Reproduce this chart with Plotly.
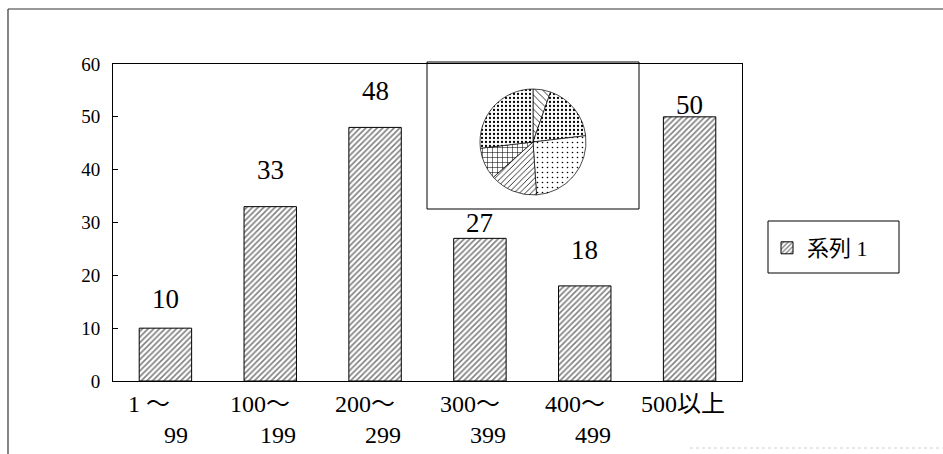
import plotly.graph_objects as go

# ---- data ----
categories = ["1～99", "100～199", "200～299", "300～399", "400～499", "500以上"]
label_line1 = ["1 ～", "100～", "200～", "300～", "400～", "500以上"]
label_line2 = ["99", "199", "299", "399", "499", ""]
values = [10, 33, 48, 27, 18, 50]
series_name = "系列 1"
y_ticks = [0, 10, 20, 30, 40, 50, 60]

# ---- styling ----
SERIF = "Liberation Serif, Noto Sans CJK JP, serif"
NUM_FONT = "Liberation Serif"
label_lift = [29, 37, 36, 15, 36, 12]          # px above each bar top
line2_indent = ["\u3000\u00a0\u00a0", "\u3000\u00a0", "\u3000\u00a0",
                "\u3000\u00a0", "\u3000\u00a0", ""]

W, H = 943, 454
L, R, T, B = 113, 201, 64, 73
pw, ph = W - L - R, H - T - B


def px_x(p):
    return (p - L) / pw


def px_y(p):
    return (H - B - p) / ph


fig = go.Figure()

fig.add_trace(go.Bar(
    x=categories, y=values, name=series_name, width=0.5,
    marker=dict(color="white", line=dict(color="black", width=1),
                pattern=dict(shape="/", size=4, solidity=0.4,
                             fgcolor="black", bgcolor="white")),
    showlegend=True,
))

# inset pie of the same distribution
cx, cy, rad = 533, 142, 53
fig.add_trace(go.Pie(
    labels=categories, values=values, sort=False, direction="clockwise",
    rotation=0, textinfo="none", showlegend=False, hoverinfo="label+value",
    domain=dict(x=[px_x(cx - rad), px_x(cx + rad)],
                y=[px_y(cy + rad), px_y(cy - rad)]),
    marker=dict(colors=["white"] * 6, line=dict(color="black", width=0.7),
                pattern=dict(shape=["\\", ".", ".", "/", "+", "."],
                             size=[5, 4, 5, 4, 5, 4],
                             solidity=[0.15, 0.25, 0.08, 0.2, 0.2, 0.25],
                             fgcolor="black", bgcolor="white")),
))

annotations = []
for c, v, lift in zip(categories, values, label_lift):
    annotations.append(dict(x=c, y=v, xref="x", yref="y", text=str(v),
                            showarrow=False, yanchor="middle", yshift=lift,
                            font=dict(family=NUM_FONT, size=27, color="black")))
for c, a, b, ind in zip(categories, label_line1, label_line2, line2_indent):
    txt = a if not b else a + "<br>" + ind + b
    annotations.append(dict(x=c, y=0, xref="x", yref="paper", text=txt,
                            showarrow=False, xanchor="center", yanchor="top",
                            align="left", xshift=-7, yshift=-8,
                            font=dict(family=SERIF, size=24, color="black")))

shapes = [
    # inset frame around the pie
    dict(type="rect", xref="paper", yref="paper", layer="below",
         x0=px_x(427), x1=px_x(639), y0=px_y(209), y1=px_y(62),
         line=dict(color="black", width=1), fillcolor="white"),
    # legend frame
    dict(type="rect", xref="paper", yref="paper",
         x0=px_x(768), x1=px_x(899), y0=px_y(273), y1=px_y(221),
         line=dict(color="black", width=1)),
    # outer chart frame (top and left edges)
    dict(type="line", xref="paper", yref="paper",
         x0=px_x(8), x1=px_x(943), y0=px_y(9), y1=px_y(9),
         line=dict(color="#333", width=1.2)),
    dict(type="line", xref="paper", yref="paper",
         x0=px_x(8), x1=px_x(8), y0=px_y(9), y1=px_y(454),
         line=dict(color="#333", width=1.2)),
    dict(type="line", xref="paper", yref="paper",
         x0=px_x(690), x1=px_x(943), y0=px_y(448), y1=px_y(448),
         line=dict(color="#d0d0d0", width=1, dash="dot")),
]

fig.update_layout(
    width=W, height=H, margin=dict(l=L, r=R, t=T, b=B),
    paper_bgcolor="white", plot_bgcolor="white",
    font=dict(family=SERIF, color="black"),
    bargap=0.5,
    xaxis=dict(showticklabels=False, ticks="", showgrid=False,
               showline=True, linecolor="black", linewidth=1, mirror=True,
               zeroline=False),
    yaxis=dict(range=[0, 60], tickvals=y_ticks, ticks="inside", ticklen=5,
               tickcolor="black", showgrid=False, zeroline=False,
               showline=True, linecolor="black", linewidth=1, mirror=True,
               ticklabelstandoff=8,
               tickfont=dict(family=SERIF, size=19, color="black")),
    legend=dict(x=px_x(767), y=px_y(248), xanchor="left", yanchor="middle",
                bgcolor="rgba(0,0,0,0)", borderwidth=0,
                font=dict(family=SERIF, size=22, color="black")),
    annotations=annotations, shapes=shapes,
)

fig.write_html("out.html")
